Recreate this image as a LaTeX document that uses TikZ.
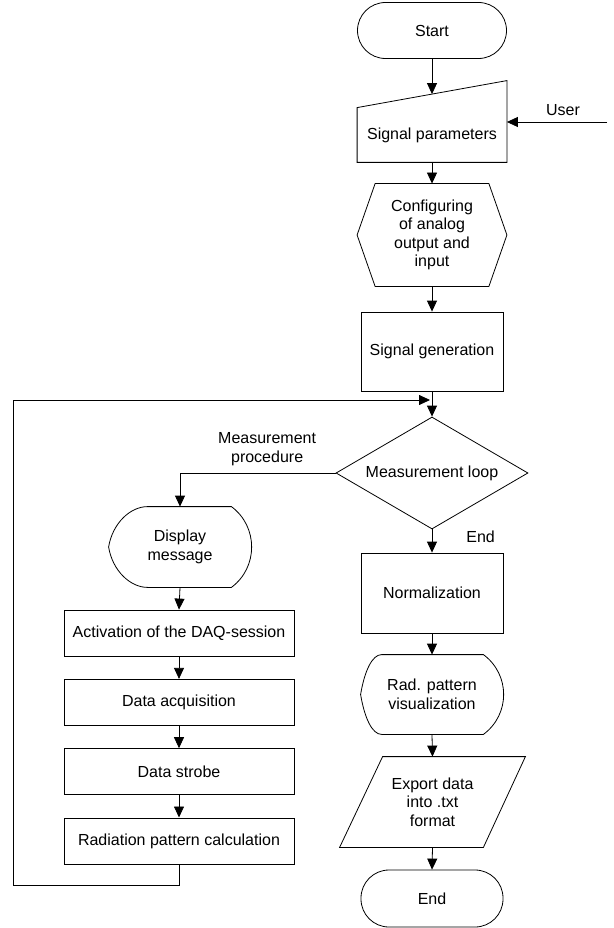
\documentclass[tikz,border=0pt]{standalone}
\usepackage{fontspec}
\setmainfont{Liberation Sans}
\usetikzlibrary{positioning,shapes.geometric,arrows.meta}

% outline of a display block round node #1, left inset #2, right inset #3
\newcommand{\displine}[3]{%
  \draw (#1.west) .. controls ([xshift=4pt,yshift=24pt]#1.west) and ([xshift={0.56*#2pt}]#1.north west) .. ([xshift=#2pt]#1.north west)
    -- ([xshift=-#3pt]#1.north east) .. controls ([xshift=7pt,yshift=-20pt]#1.north east) and ([xshift=7pt,yshift=20pt]#1.south east) .. ([xshift=-#3pt]#1.south east)
    -- ([xshift=#2pt]#1.south west) .. controls ([xshift={0.56*#2pt}]#1.south west) and ([xshift=4pt,yshift=-24pt]#1.west) .. (#1.west);}

\begin{document}
\begin{tikzpicture}[
                x=1pt, y=-1pt,
                line width=0.8pt,
                node distance=22.5pt,
                every node/.append style={font=\fontsize{16}{18.5}\selectfont,align=center,inner sep=2pt},
                box/.style={rectangle,draw,minimum width=142pt,minimum height=79pt},
                smallbox/.style={rectangle,draw,minimum width=230pt,minimum height=46pt},
                term/.style={rectangle,draw,rounded corners=28pt,minimum width=142pt,minimum height=57pt},
                arr/.style={-{Triangle[length=11pt,width=10pt]}}
            ]
                \useasboundingbox (0,0) rectangle (613,928);
                % main column
                \node (start) [term,minimum width=149pt,minimum height=56pt] at (432,30.5) {Start};
                \node (par) [minimum width=149pt,minimum height=54pt] at (432,135) {Signal parameters};
                \draw (par.south west) -- (par.north west) -- ([yshift=27pt]par.north east) -- (par.south east) -- cycle;
                \coordinate (partop) at ([yshift=13.5pt]par.north);
                \coordinate (user) at (607,122);
                \node (cfg) [minimum width=149pt,minimum height=102pt] at (432,235) {Configuring\\of analog\\output and\\input};
                \draw (cfg.west) -- ([xshift=18pt]cfg.north west) -- ([xshift=-18pt]cfg.north east) -- (cfg.east)
                    -- ([xshift=-18pt]cfg.south east) -- ([xshift=18pt]cfg.south west) -- cycle;
                \node (gen) [box] at (432,351.5) {Signal generation};
                \coordinate (join) at (432,400);
                \node (loop) [diamond,draw,aspect=1.7,inner sep=0pt,minimum width=192pt,minimum height=112pt] at (432,473) {Measurement loop};
                \node (norm) [box,minimum height=80pt] at (432,593) {Normalization};
                \node (rad) [minimum width=142pt,minimum height=79pt] at (432,694.5) {Rad. pattern\\visualization};
                \displine{rad}{21}{20}
                \node (exp) [minimum width=185pt,minimum height=90pt] at (432.5,802) {Export data\\into .txt\\format};
                \draw ([xshift=43pt]exp.north west) -- (exp.north east) -- ([xshift=-42pt]exp.south east) -- (exp.south west) -- cycle;
                \node (end) [term] at (432,898.5) {End};
                % measurement branch
                \node (disp) [minimum width=142pt,minimum height=80pt] at (180,547) {Display\\message};
                \displine{disp}{39}{20}
                \node (act) [smallbox] at (179,633) {Activation of the DAQ-session};
                \node (acq) [smallbox,below=of act] {Data acquisition};
                \node (strobe) [smallbox,below=of acq] {Data strobe};
                \node (radcalc) [smallbox,below=of strobe] {Radiation pattern calculation};
                % connectors
                \draw[arr] (start.south) -- (partop);
                \draw[arr] (user) -- node[above=4pt,pos=0.44] {User} (user -| par.east);
                \draw[arr] (par.south) -- (cfg.north);
                \draw[arr] (cfg.south) -- (gen.north);
                \draw[arr] (gen.south) -- (loop.north);
                \draw[arr] (loop.west) -| node[pos=0.22,above=5pt] {Measurement\\procedure} (disp.north);
                \draw[arr] (loop.south) -- node[pos=0.3,anchor=west,xshift=32pt] {End} (norm.north);
                \foreach \a/\b in {norm/rad,rad/exp,exp/end,disp/act,act/acq,acq/strobe,strobe/radcalc}
                    \draw[arr] (\a.south) -- (\b.north);
                \draw[arr,shorten >=2pt] (radcalc.south) -- ++(0,21) -| (13,400) -- (join);
            \end{tikzpicture}
\end{document}
